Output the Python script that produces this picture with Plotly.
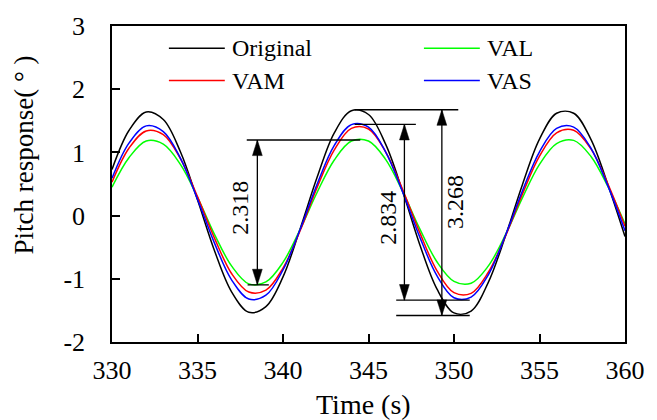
import plotly.graph_objects as go

# ---------------- data ----------------
time_s = list(range(330, 361))

original = [0.73, 1.35, 1.64, 1.52, 1.01, 0.25, -0.56, -1.21, -1.53, -1.44,
            -0.97, -0.21, 0.61, 1.31, 1.66, 1.60, 1.13, 0.38, -0.46, -1.16,
            -1.54, -1.51, -1.06, -0.33, 0.49, 1.21, 1.62, 1.62, 1.21, 0.49, -0.33]
val = [0.45, 0.92, 1.18, 1.13, 0.81, 0.29, -0.30, -0.80, -1.08, -1.05,
       -0.74, -0.22, 0.37, 0.88, 1.18, 1.18, 0.89, 0.38, -0.21, -0.73,
       -1.04, -1.07, -0.80, -0.31, 0.28, 0.81, 1.14, 1.19, 0.94, 0.46, -0.13]
vam = [0.53, 1.07, 1.34, 1.28, 0.90, 0.30, -0.36, -0.92, -1.21, -1.18,
       -0.83, -0.24, 0.45, 1.04, 1.38, 1.37, 1.01, 0.41, -0.27, -0.87,
       -1.22, -1.23, -0.90, -0.33, 0.34, 0.94, 1.31, 1.35, 1.06, 0.50, -0.17]
vas = [0.59, 1.15, 1.42, 1.33, 0.91, 0.26, -0.44, -1.02, -1.32, -1.26,
       -0.86, -0.22, 0.50, 1.11, 1.44, 1.40, 1.01, 0.37, -0.34, -0.95,
       -1.30, -1.29, -0.94, -0.32, 0.39, 1.01, 1.38, 1.40, 1.07, 0.47, -0.24]

series_names = ["Original", "VAL", "VAM", "VAS"]
series_values = [original, val, vam, vas]
series_colors = ["#000000", "#00FF00", "#FF0000", "#0000FF"]

x_ticks = [330, 335, 340, 345, 350, 355, 360]
x_ticktext = ["330", "335", "340", "345", "350", "355", "360"]
y_ticks = [-2, -1, 0, 1, 2, 3]
y_ticktext = ["-2", "-1", "0", "1", "2", "3"]

# peak-to-peak dimension markers: label, arrow x, top y, bottom y,
# top-line x span, bottom-line x span, label x, label y
dim_labels = ["2.318", "2.834", "3.268"]
dim_x = [338.5, 347.1, 349.29]
dim_top = [1.196, 1.444, 1.675]
dim_bottom = [-1.096, -1.338, -1.581]
dim_top_span = [(337.88, 344.52), (344.19, 347.77), (344.19, 350.25)]
dim_bottom_span = [(337.93, 339.17), (346.62, 350.92), (346.62, 350.92)]
dim_text_x = [337.47, 346.1, 350.02]
dim_text_y = [0.12, -0.03, 0.22]

# ---------------- layout geometry ----------------
W, H = 657, 420
ML, MR, MT, MB = 112, 22, 18, 78
PW, PH = W - ML - MR, H - MT - MB
XR = (330, 360)
YR = (-2, 3)
dx_per_px = (XR[1] - XR[0]) / PW
dy_per_px = (YR[1] - YR[0]) / PH


def px_x(px):
    return (px - ML) / PW


def px_y(py):
    return (H - MB - py) / PH


FONT = "Liberation Serif, Times New Roman, serif"

fig = go.Figure()
for name, vals, col in zip(series_names, series_values, series_colors):
    fig.add_trace(go.Scatter(x=time_s, y=vals, mode="lines", name=name,
                             line=dict(color=col, width=1.5, shape="spline"),
                             showlegend=False))

shapes = []
annotations = []
ahw = 5 * dx_per_px   # arrow half width
ahl = 16 * dy_per_px  # arrow length
for lab, x, yt, yb, ts, bs, tx, ty in zip(dim_labels, dim_x, dim_top, dim_bottom,
                                          dim_top_span, dim_bottom_span,
                                          dim_text_x, dim_text_y):
    line = dict(color="black", width=1.3)
    shapes.append(dict(type="line", xref="x", yref="y", x0=ts[0], x1=ts[1], y0=yt, y1=yt, line=line))
    shapes.append(dict(type="line", xref="x", yref="y", x0=bs[0], x1=bs[1], y0=yb, y1=yb, line=line))
    shapes.append(dict(type="line", xref="x", yref="y", x0=x, x1=x, y0=yt, y1=yb, line=line))
    shapes.append(dict(type="path", xref="x", yref="y",
                       path=f"M{x},{yt} L{x - ahw},{yt - ahl} L{x + ahw},{yt - ahl} Z",
                       fillcolor="black", line=dict(color="black", width=0.5)))
    shapes.append(dict(type="path", xref="x", yref="y",
                       path=f"M{x},{yb} L{x - ahw},{yb + ahl} L{x + ahw},{yb + ahl} Z",
                       fillcolor="black", line=dict(color="black", width=0.5)))
    annotations.append(dict(x=tx, y=ty, xref="x", yref="y", text=lab, showarrow=False,
                            textangle=-90, xanchor="center", yanchor="middle",
                            font=dict(family=FONT, size=24, color="black")))

# manual legend (two columns)
leg_items = [("Original", "#000000", 170, 40.7), ("VAL", "#00FF00", 430, 40.7),
             ("VAM", "#FF0000", 170, 74), ("VAS", "#0000FF", 430, 74)]
for name, col, lx, ly in leg_items:
    shapes.append(dict(type="line", xref="paper", yref="paper",
                       x0=px_x(lx), x1=px_x(lx + 57), y0=px_y(ly), y1=px_y(ly),
                       line=dict(color=col, width=1.5)))
    annotations.append(dict(x=px_x(lx + 62), y=px_y(ly), xref="paper", yref="paper",
                            text=name, showarrow=False, xanchor="left", yanchor="middle",
                            font=dict(family=FONT, size=24, color="black")))

# axis titles
annotations.append(dict(x=px_x(22), y=px_y(150), xref="paper", yref="paper",
                        text="Pitch response(\u00a0°\u00a0)", showarrow=False, textangle=-90,
                        xanchor="center", yanchor="middle",
                        font=dict(family=FONT, size=27, color="black")))
annotations.append(dict(x=px_x(368), y=px_y(406), xref="paper", yref="paper",
                        text="Time (s)", showarrow=False,
                        xanchor="center", yanchor="middle",
                        font=dict(family=FONT, size=28, color="black")))

fig.update_layout(
    width=W, height=H,
    margin=dict(l=ML, r=MR, t=MT, b=MB),
    plot_bgcolor="white", paper_bgcolor="white",
    font=dict(family=FONT, size=26, color="black"),
    showlegend=False,
    shapes=shapes, annotations=annotations,
    xaxis=dict(range=list(XR), tickvals=x_ticks, ticktext=x_ticktext,
               ticks="inside", ticklen=8, tickwidth=1.5, tickcolor="black",
               showline=True, linecolor="black", linewidth=1.5, mirror=True,
               showgrid=False, zeroline=False, ticklabelstandoff=4,
               tickfont=dict(family=FONT, size=26)),
    yaxis=dict(range=list(YR), tickvals=y_ticks, ticktext=y_ticktext,
               ticks="inside", ticklen=8, tickwidth=1.5, tickcolor="black",
               showline=True, linecolor="black", linewidth=1.5, mirror=True,
               showgrid=False, zeroline=False, ticklabelstandoff=20,
               tickfont=dict(family=FONT, size=26)),
)

fig.write_html("out.html")
